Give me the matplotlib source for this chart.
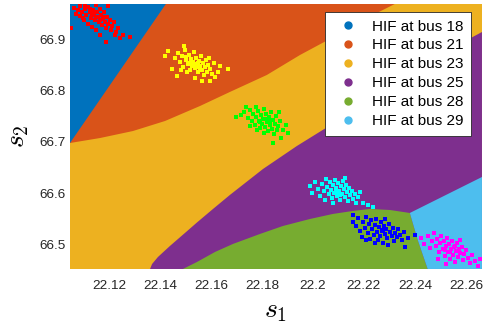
import numpy as np
import matplotlib
matplotlib.use("Agg")
import matplotlib.pyplot as plt
from matplotlib.lines import Line2D

plt.rcParams['font.family'] = ['Liberation Sans', 'DejaVu Sans']
plt.rcParams['mathtext.fontset'] = 'cm'

# axis range (s1, s2)
x_lim = [22.1047, 22.2663]
y_lim = [66.4533, 66.968]
x_ticks = [22.12, 22.14, 22.16, 22.18, 22.2, 22.22, 22.24, 22.26]
x_ticklabels = ['22.12', '22.14', '22.16', '22.18', '22.2', '22.22', '22.24', '22.26']
y_ticks = [66.5, 66.6, 66.7, 66.8, 66.9]

# class names / region colours (MATLAB default order)
labels = ['HIF at bus 18', 'HIF at bus 21', 'HIF at bus 23',
          'HIF at bus 25', 'HIF at bus 28', 'HIF at bus 29']
region_colors = ['#0072BD', '#D95319', '#EDB120', '#7E2F8E', '#77AC30', '#4DBEEE']

# decision boundaries
b18_21_x = [22.1047, 22.1423]
b18_21_y = [66.698, 66.968]

b21_23_x = [22.1047, 22.1165, 22.1294, 22.1420, 22.1557, 22.1674, 22.1819,
            22.1949, 22.2066, 22.2184, 22.2243, 22.2321]
b21_23_y = [66.698, 66.7077, 66.7213, 66.7408, 66.7699, 66.7971, 66.8301,
            66.8689, 66.900, 66.933, 66.9486, 66.968]

b23_25_x = [22.1361, 22.1369, 22.1392, 22.1439, 22.1498, 22.1545, 22.1608,
            22.1674, 22.1804, 22.1937, 22.2051, 22.2184, 22.2341, 22.2498,
            22.2619, 22.2663]
b23_25_y = [66.4533, 66.4630, 66.4766, 66.4980, 66.5233, 66.5436, 66.5699,
            66.5970, 66.6475, 66.6922, 66.7272, 66.7641, 66.8126, 66.8612,
            66.9019, 66.9136]

b25_28_x = [22.1490, 22.1545, 22.1616, 22.1686, 22.1792, 22.1882, 22.1988,
            22.2078, 22.2156, 22.2223, 22.2302, 22.2380]
b25_28_y = [66.4533, 66.4669, 66.4864, 66.5019, 66.5213, 66.5368, 66.5504,
            66.5602, 66.5660, 66.5699, 66.5679, 66.5621]

b28_29_x = [22.2380, 22.2411, 22.2450]
b28_29_y = [66.5621, 66.5097, 66.4533]

b25_29_x = [22.2380, 22.2663]
b25_29_y = [66.5621, 66.6320]

# measured samples (s1, s2) per fault location
red_x = [22.1063, 22.1078, 22.1086, 22.1094, 22.1106, 22.1110, 22.1118, 22.1126,
         22.1129, 22.1137, 22.1141, 22.1145, 22.1153, 22.1157, 22.1161, 22.1165,
         22.1169, 22.1173, 22.1176, 22.1180, 22.1184, 22.1188, 22.1192, 22.1196,
         22.1204, 22.1208, 22.1212, 22.1220, 22.1227, 22.1235, 22.1102, 22.1086,
         22.1118, 22.1133, 22.1149, 22.1071, 22.1051, 22.1188, 22.1255, 22.1282,
         22.1243, 22.1224, 22.1165, 22.1196, 22.1149, 22.1106, 22.1133, 22.1149,
         22.1165, 22.1126, 22.1180, 22.1098]
red_y = [66.960, 66.956, 66.964, 66.952, 66.958, 66.947, 66.962, 66.952,
         66.941, 66.956, 66.949, 66.937, 66.952, 66.943, 66.933, 66.958,
         66.947, 66.927, 66.939, 66.952, 66.933, 66.921, 66.943, 66.929,
         66.937, 66.917, 66.925, 66.933, 66.914, 66.921, 66.937, 66.945,
         66.929, 66.923, 66.917, 66.949, 66.921, 66.894, 66.908, 66.904,
         66.902, 66.908, 66.908, 66.964, 66.967, 66.966, 66.947, 66.943,
         66.937, 66.958, 66.943, 66.941]

yellow_x = [22.1420, 22.1431, 22.1447, 22.1467, 22.1459, 22.1470, 22.1478, 22.1486,
            22.1490, 22.1498, 22.1502, 22.1510, 22.1514, 22.1518, 22.1521, 22.1525,
            22.1529, 22.1533, 22.1537, 22.1541, 22.1545, 22.1549, 22.1553, 22.1557,
            22.1561, 22.1565, 22.1568, 22.1572, 22.1576, 22.1580, 22.1584, 22.1588,
            22.1596, 22.1604, 22.1612, 22.1616, 22.1596, 22.1565, 22.1635, 22.1666,
            22.1627, 22.1506, 22.1494, 22.1537, 22.1482, 22.1592, 22.1518, 22.1533,
            22.1549, 22.1541, 22.1557, 22.1502]
yellow_y = [66.867, 66.877, 66.842, 66.828, 66.863, 66.873, 66.855, 66.867,
            66.846, 66.879, 66.859, 66.851, 66.869, 66.840, 66.861, 66.848,
            66.855, 66.875, 66.844, 66.863, 66.851, 66.836, 66.857, 66.848,
            66.867, 66.840, 66.853, 66.830, 66.846, 66.859, 66.836, 66.850,
            66.842, 66.832, 66.853, 66.826, 66.818, 66.818, 66.848, 66.842,
            66.836, 66.836, 66.886, 66.824, 66.840, 66.863, 66.853, 66.850,
            66.853, 66.846, 66.840, 66.865]

green_x = [22.1698, 22.1717, 22.1737, 22.1776, 22.1729, 22.1745, 22.1753, 22.1761,
           22.1764, 22.1772, 22.1776, 22.1784, 22.1788, 22.1792, 22.1796, 22.1800,
           22.1804, 22.1808, 22.1812, 22.1815, 22.1819, 22.1823, 22.1827, 22.1831,
           22.1835, 22.1839, 22.1843, 22.1847, 22.1851, 22.1855, 22.1859, 22.1862,
           22.1870, 22.1874, 22.1843, 22.1894, 22.1902, 22.1882, 22.1808, 22.1780,
           22.1753, 22.1866, 22.1815, 22.1792, 22.1831]
green_y = [66.749, 66.752, 66.768, 66.768, 66.758, 66.747, 66.762, 66.741,
           66.754, 66.733, 66.749, 66.760, 66.741, 66.727, 66.752, 66.735,
           66.745, 66.764, 66.729, 66.754, 66.739, 66.721, 66.749, 66.733,
           66.758, 66.725, 66.743, 66.716, 66.735, 66.751, 66.723, 66.731,
           66.741, 66.708, 66.698, 66.733, 66.718, 66.723, 66.718, 66.723,
           66.731, 66.758, 66.745, 66.739, 66.741]

cyan_x = [22.1988, 22.1996, 22.2008, 22.2019, 22.2027, 22.2035, 22.2043, 22.2051,
          22.2055, 22.2062, 22.2066, 22.2070, 22.2074, 22.2078, 22.2082, 22.2086,
          22.2090, 22.2094, 22.2098, 22.2102, 22.2106, 22.2109, 22.2113, 22.2117,
          22.2121, 22.2125, 22.2129, 22.2133, 22.2137, 22.2141, 22.2145, 22.2153,
          22.2156, 22.2164, 22.2168, 22.2176, 22.2184, 22.2196, 22.2235, 22.2215,
          22.2078, 22.2047, 22.2125, 22.2106, 22.2090]
cyan_y = [66.615, 66.601, 66.622, 66.609, 66.595, 66.618, 66.605, 66.628,
          66.613, 66.599, 66.622, 66.607, 66.591, 66.617, 66.601, 66.626,
          66.611, 66.595, 66.620, 66.605, 66.587, 66.615, 66.599, 66.624,
          66.609, 66.593, 66.617, 66.603, 66.585, 66.611, 66.597, 66.605,
          66.589, 66.599, 66.582, 66.593, 66.603, 66.582, 66.574, 66.578,
          66.582, 66.587, 66.630, 66.597, 66.603]

blue_x = [22.2156, 22.2156, 22.2168, 22.2176, 22.2184, 22.2192, 22.2196, 22.2204,
          22.2207, 22.2215, 22.2219, 22.2223, 22.2227, 22.2231, 22.2239, 22.2243,
          22.2247, 22.2251, 22.2254, 22.2258, 22.2262, 22.2266, 22.2270, 22.2274,
          22.2278, 22.2282, 22.2286, 22.2290, 22.2294, 22.2298, 22.2302, 22.2309,
          22.2313, 22.2317, 22.2321, 22.2329, 22.2333, 22.2341, 22.2349, 22.2360,
          22.2356, 22.2372, 22.2400, 22.2243, 22.2207, 22.2282, 22.2274]
blue_y = [66.558, 66.545, 66.537, 66.552, 66.527, 66.516, 66.545, 66.533,
          66.554, 66.523, 66.541, 66.512, 66.549, 66.531, 66.519, 66.539,
          66.550, 66.525, 66.510, 66.535, 66.517, 66.545, 66.527, 66.504,
          66.537, 66.521, 66.531, 66.514, 66.500, 66.541, 66.525, 66.517,
          66.533, 66.508, 66.523, 66.516, 66.531, 66.519, 66.510, 66.496,
          66.525, 66.514, 66.519, 66.504, 66.510, 66.550, 66.529]

magenta_x = [22.2423, 22.2435, 22.2450, 22.2458, 22.2466, 22.2474, 22.2482, 22.2486,
             22.2494, 22.2498, 22.2501, 22.2509, 22.2513, 22.2517, 22.2521, 22.2525,
             22.2529, 22.2533, 22.2537, 22.2541, 22.2545, 22.2548, 22.2552, 22.2556,
             22.2560, 22.2564, 22.2568, 22.2572, 22.2576, 22.2584, 22.2588, 22.2592,
             22.2599, 22.2607, 22.2615, 22.2623, 22.2635, 22.2646, 22.2654, 22.2521,
             22.2490, 22.2576, 22.2537, 22.2517, 22.2556]
magenta_y = [66.514, 66.502, 66.517, 66.494, 66.508, 66.523, 66.498, 66.512,
             66.486, 66.504, 66.517, 66.492, 66.508, 66.479, 66.498, 66.514,
             66.486, 66.502, 66.473, 66.492, 66.508, 66.481, 66.496, 66.467,
             66.488, 66.504, 66.477, 66.492, 66.484, 66.496, 66.471, 66.483,
             66.490, 66.475, 66.465, 66.481, 66.469, 66.459, 66.473, 66.463,
             66.473, 66.510, 66.486, 66.490, 66.498]

samples = [(red_x, red_y, '#FF0000'), (yellow_x, yellow_y, '#FFFF00'),
           (green_x, green_y, '#00FF00'), (cyan_x, cyan_y, '#00FFFF'),
           (blue_x, blue_y, '#0000FF'), (magenta_x, magenta_y, '#FF00FF')]

fig = plt.figure(figsize=(4.84, 3.28), dpi=100)
ax = fig.add_axes([0.1446, 0.1799, 0.8512, 0.8079])
ax.set_xlim(x_lim)
ax.set_ylim(y_lim)

# regions: yellow everywhere, then the others on top
ax.set_facecolor(region_colors[2])
ax.fill(b21_23_x + [x_lim[0]], b21_23_y + [y_lim[1]], color=region_colors[1], lw=0)
ax.fill(b18_21_x + [x_lim[0]], b18_21_y + [y_lim[1]], color=region_colors[0], lw=0)
ax.fill(b23_25_x + [x_lim[1]], b23_25_y + [y_lim[0]], color=region_colors[3], lw=0)
ax.fill(b25_28_x + b28_29_x[1:], b25_28_y + b28_29_y[1:], color=region_colors[4], lw=0)
ax.fill(b25_29_x + [x_lim[1]] + b28_29_x[::-1][:-1],
        b25_29_y + [y_lim[0]] + b28_29_y[::-1][:-1], color=region_colors[5], lw=0)

for sx, sy, c in samples:
    ax.plot(sx, sy, 's', ms=2.8, mew=0, color=c, clip_on=True)

ax.set_xticks(x_ticks)
ax.set_xticklabels(x_ticklabels)
ax.set_yticks(y_ticks)
ax.tick_params(axis='both', length=0, labelsize=9.7, colors='#262626')
ax.tick_params(axis='x', pad=8)
ax.tick_params(axis='y', pad=3)
for s in ax.spines.values():
    s.set_visible(False)

ax.set_xlabel(r'$s_1$', fontsize=20, labelpad=4)
ax.set_ylabel(r'$s_2$', fontsize=20, labelpad=6)

handles = [Line2D([0], [0], marker='o', ls='none', ms=5, color=c, label=l)
           for c, l in zip(region_colors, labels)]
leg = ax.legend(handles=handles, loc='upper right', fontsize=11.0,
                bbox_to_anchor=(0.973, 0.97), borderaxespad=0,
                fancybox=False, framealpha=1, edgecolor='#262626',
                handlelength=2.0, handletextpad=0.55, labelspacing=0.32,
                borderpad=0.5)
leg.get_frame().set_linewidth(0.6)

fig.savefig('out.png', dpi=100)
